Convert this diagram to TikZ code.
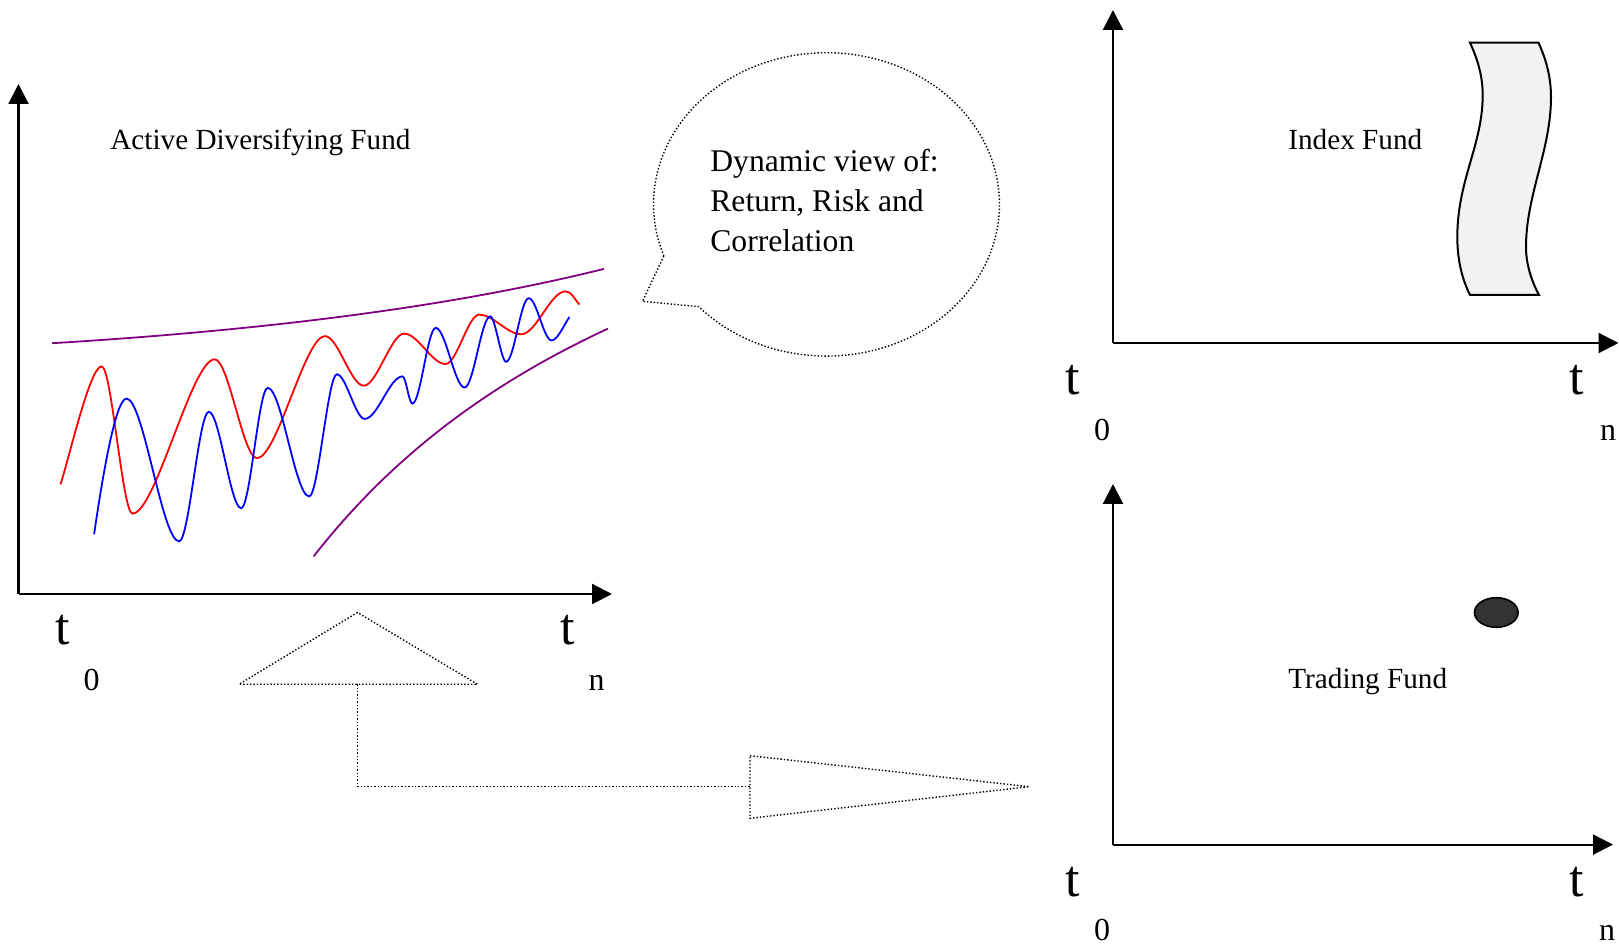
\documentclass[tikz,border=0pt]{standalone}
\usepackage{fontspec}
\setmainfont{Liberation Serif}
\usetikzlibrary{arrows.meta,shapes.geometric}
\definecolor{purp}{RGB}{128,0,128}
\definecolor{darkdot}{RGB}{51,51,51}
\begin{document}
\begin{tikzpicture}[x=0.5pt,y=-0.5pt,
  axisline/.style={line width=1.1pt, -{Triangle[length=10pt,width=10pt]}},
  lbl/.style={inner sep=0pt, anchor=base west, font=\fontsize{14.6}{17}\selectfont},
  bigt/.style={inner sep=0pt, anchor=base, font=\fontsize{26}{30}\selectfont},
  subl/.style={inner sep=0pt, anchor=base, font=\fontsize{16}{19}\selectfont},
  bubtxt/.style={inner sep=0pt, anchor=base west, font=\fontsize{15.8}{19}\selectfont},
  curve/.style={line width=0.9pt},
  dots/.style={densely dotted, line width=0.7pt}]
\useasboundingbox (0,0) rectangle (1619,946);

% ---------- left chart ----------
\coordinate (o1) at (18.5,594);
\coordinate (y1) at (18.5,84);
\coordinate (x1) at (612,594);
\draw[axisline] (o1) -- (y1);
\draw[axisline] (o1) -- (x1);
\node[lbl] (adf) at (110,150) {Active Diversifying Fund};
\node[bigt] (t0a) at (62.5,645) {t};
\node[subl] (s0a) at (91.5,690) {0};
\node[bigt] (tna) at (568,645) {t};
\node[subl] (sna) at (596.5,690) {n};

% purple bounds
\draw[curve, purp] (52.2,343.2)
  .. controls (270,330) and (455,306) .. (604,268.9);
\draw[curve, purp] (313.6,556.4)
  .. controls (386,464) and (478,389) .. (608,328.6);

% red series
\draw[curve, red] (60.5,484.3)
  .. controls (70,455) and (90,366.4) .. (101.6,366.4)
  .. controls +(10,0) and +(-10,0) .. (132.5,513.6)
  .. controls +(23,0) and +(-23,0) .. (214.7,359.3)
  .. controls +(14,0) and +(-14,0) .. (257,458.2)
  .. controls +(20,0) and +(-20,0) .. (325,336.1)
  .. controls +(13,0) and +(-13,0) .. (363.8,385.7)
  .. controls +(13,0) and +(-13,0) .. (404.1,333.6)
  .. controls +(14,0) and +(-14,0) .. (445.6,364)
  .. controls +(11,0) and +(-11,0) .. (479.2,314.6)
  .. controls +(14,0) and +(-14,0) .. (521.2,334.3)
  .. controls +(15,0) and +(-15,0) .. (565.4,291.4)
  .. controls +(6,0) and +(-5,-6) .. (579.3,304.6);

% blue series
\draw[curve, blue] (94.1,534.3)
  .. controls (100,494) and (114.5,398.6) .. (126.5,398.6)
  .. controls +(17,0) and +(-17,0) .. (179.1,541.4)
  .. controls +(10,0) and +(-10,0) .. (208.8,411.8)
  .. controls +(11,0) and +(-11,0) .. (241.2,508.2)
  .. controls +(9,0) and +(-9,0) .. (267.7,387.9)
  .. controls +(14,0) and +(-14,0) .. (309.2,496.4)
  .. controls +(9,0) and +(-9,0) .. (336.9,374.3)
  .. controls +(9,0) and +(-9,0) .. (364.6,418.9)
  .. controls +(13,0) and +(-13,0) .. (402.5,376.4)
  .. controls +(3.5,0) and +(-3.5,0) .. (412.4,403.6)
  .. controls +(8,0) and +(-8,0) .. (435.7,327.9)
  .. controls +(10,0) and +(-10,0) .. (464.6,387.5)
  .. controls +(9,0) and +(-9,0) .. (490.3,316.4)
  .. controls +(5,0) and +(-5,0) .. (506.1,361.8)
  .. controls +(8,0) and +(-8,0) .. (528.7,298.2)
  .. controls +(8,0) and +(-8,0) .. (551.6,340.4)
  .. controls +(6,0) and +(-5,7) .. (569.4,317.1);

% ---------- speech bubble ----------
\draw[dots] plot[domain=160.1:497.6, samples=140, variable=\ang]
  ({826.5+173*cos(\ang)},{204.4+151.7*sin(\ang)}) -- (642.5,301.3) -- cycle;
\node[bubtxt] (b1) at (710,172) {Dynamic view of:};
\node[bubtxt] (b2) at (710,212) {Return, Risk and};
\node[bubtxt] (b3) at (710,252) {Correlation};

% ---------- up triangle and arrow ----------
\draw[dots] (357.5,612.5) -- (239,684.3) -- (477.5,684.3) -- cycle;
\coordinate (upbase) at (357.5,684.3);
\draw[dots] (750,755.7) -- (1029.3,786.7) -- (750,818.3) -- cycle;
\coordinate (rtbase) at (750,786.7);
\draw[dots] (upbase) |- (rtbase);

% ---------- top right chart ----------
\coordinate (o2) at (1113,343);
\coordinate (y2) at (1113,10);
\coordinate (x2) at (1618.5,343);
\draw[axisline] (o2) -- (y2);
\draw[axisline] (o2) -- (x2);
\node[lbl] (idx) at (1288,150) {Index Fund};
\node[bigt] (t0b) at (1072.5,395) {t};
\node[subl] (s0b) at (1102,441) {0};
\node[bigt] (tnb) at (1577,395) {t};
\node[subl] (snb) at (1608,441) {n};
\draw[line width=1pt, fill=black!5]
  (1470,42.7) -- (1538.5,42.7)
  .. controls (1545,57) and (1551,75) .. (1551,97)
  .. controls (1551,150) and (1526,195) .. (1526,247)
  .. controls (1526,265) and (1532,282) .. (1539,295)
  -- (1470,295)
  .. controls (1463,281) and (1457.3,262) .. (1457.3,237)
  .. controls (1457.3,180) and (1482.7,145) .. (1482.7,95)
  .. controls (1482.7,75) and (1477,58) .. (1470,42.7) -- cycle;

% ---------- bottom right chart ----------
\coordinate (o3) at (1113,844.6);
\coordinate (y3) at (1113,484);
\coordinate (x3) at (1613,844.6);
\draw[axisline] (o3) -- (y3);
\draw[axisline] (o3) -- (x3);
\node[lbl] (trd) at (1288,688.5) {Trading Fund};
\node[bigt] (t0c) at (1072.5,896.7) {t};
\node[subl] (s0c) at (1102,940.5) {0};
\node[bigt] (tnc) at (1577,896.7) {t};
\node[subl] (snc) at (1607,940.5) {n};
\node[draw, line width=0.8pt, fill=darkdot, ellipse, minimum width=21.8pt, minimum height=14.8pt, inner sep=0pt] (dot) at (1496.3,612.5) {};
\end{tikzpicture}
\end{document}
